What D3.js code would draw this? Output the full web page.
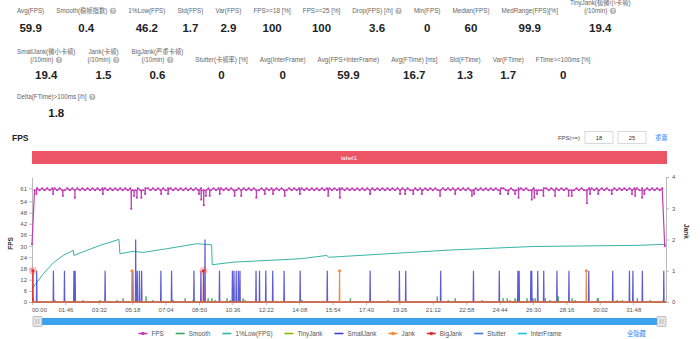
<!DOCTYPE html>
<html><head><meta charset="utf-8">
<script src="https://cdn.jsdelivr.net/npm/d3@7/dist/d3.min.js"></script>
<style>
body{margin:0;background:#fff;}
svg{display:block;font-family:"Liberation Sans",Arial,"Noto Sans CJK SC",sans-serif;}
.slabel{font-size:6.3px;fill:#666;}
.svalue{font-size:11.5px;font-weight:bold;fill:#222;}
</style></head>
<body>
<svg id="chart" width="700" height="339"></svg>
<script>
// ---------------- DATA ----------------
const statLabels1 = ["Avg(FPS)","Smooth(稳帧指数)","1%Low(FPS)","Std(FPS)","Var(FPS)","FPS>=18 [%]","FPS>=25 [%]","Drop(FPS) [/h]","Min(FPS)","Median(FPS)","MedRange(FPS)[%]","TinyJank(极微小卡顿)\n(/10min)"];
const statValues1 = ["59.9","0.4","46.2","1.7","2.9","100","100","3.6","0","60","99.9","19.4"];
const statHelp1   = [0,1,0,0,0,0,0,1,0,0,0,1];
const statLabels2 = ["SmallJank(微小卡顿)\n(/10min)","Jank(卡顿)\n(/10min)","BigJank(严重卡顿)\n(/10min)","Stutter(卡顿率) [%]","Avg(InterFrame)","Avg(FPS+InterFrame)","Avg(FTime) [ms]","Std(FTime)","Var(FTime)","FTime>=100ms [%]"];
const statValues2 = ["19.4","1.5","0.6","0","0","59.9","16.7","1.3","1.7","0"];
const statHelp2   = [1,1,1,0,0,0,0,0,0,0];
const statLabels3 = ["Delta(FTime)>100ms [/h]"];
const statValues3 = ["1.8"];
const statHelp3   = [1];

const xTickLabels = ["00:00","01:46","03:32","05:18","07:04","08:50","10:36","12:22","14:08","15:54","17:40","19:26","21:12","22:58","24:44","26:30","28:16","30:02","31:48"];
const leftTicks = [0,6,12,18,24,30,36,42,48,54,61];
const rightTicks = [0,1,2,3,4];
const durationSec = 2012;

// FPS samples, one every 8 s (the band between 60 and 61)
const fpsStep = 8;
const fpsValues = [
31,60,61,60,61,60,61,60,61,61,60,61,
60,60,61,60,61,60,61,60,61,60,61,60,
61,60,61,60,61,61,60,61,60,61,60,61,
60,61,60,61,60,60,61,60,60,61,61,60,
61,60,61,60,61,60,61,61,60,61,60,61,
60,61,60,61,60,61,60,61,60,60,61,60,
61,60,61,61,60,61,60,61,60,60,61,60,
61,60,61,60,61,60,60,61,60,61,60,61,
60,61,60,61,60,60,61,60,61,60,61,61,
60,61,60,61,60,61,60,61,60,61,61,60,
61,60,61,61,60,61,60,61,60,61,60,61,
60,61,60,61,60,61,60,61,60,61,60,61,
60,61,60,61,60,61,60,60,61,60,61,60,
61,60,61,60,61,60,60,61,60,61,60,61,
60,61,60,61,60,61,60,60,61,60,61,60,
61,60,61,60,61,60,61,61,60,60,61,60,
60,61,61,60,61,60,60,61,60,60,60,61,
61,60,61,60,61,60,61,60,61,60,60,60,
61,60,61,60,60,61,61,60,61,60,61,60,
61,60,60,61,60,61,60,61,60,61,60,61,
61,60,61,60,61,60,61,60,61,60,61,30
];
// momentary FPS drops (second, fps)
const fpsDipTimes  = [14,67,98,136,225,315,324,333,347,359,410,432,530,537,545,552,564,596,643,664,712,739,765,802,850,940,977,1073,1168,1184,1210,1237,1295,1343,1396,1403,1486,1511,1533,1544,1586,1594,1603,1623,1660,1703,1713,1761,1771,1797,1840,1904,1914,1936,1943];
const fpsDipValues = [58,58,57,56,58,50,57,56,56,58,58,58,58,55,52,57,57,58,57,57,56,58,58,57,58,57,56,58,58,58,58,58,57,58,57,58,58,58,58,56,55,56,58,57,57,57,57,53,58,58,58,58,57,56,58];

const lowFpsTimes  = [0,36,68,99,131,133,174,216,276,279,321,352,428,523,544,570,572,639,851,936,941,1327,1591,1920,2012];
const lowFpsValues = [7,15.2,21.1,25,27.7,25,27.7,30.4,33.6,25.9,27.2,26.6,28.6,31.3,31,30.7,20,21.4,23.2,25,24,27.9,29.8,30.4,31];

const smallJankTimes  = [15,68,103,133,137,232,320,329,334,341,348,409,443,514,536,549,595,636,641,648,655,660,711,722,742,764,800,851,937,1073,1166,1186,1297,1401,1483,1542,1546,1583,1586,1605,1624,1666,1704,1767,1843,1896,1907,1937,2005];
const smallJankValues = [1,1,1,1,1,1,1,2,1,1,1,1,1,1,1,2,1,1,1,1,1,1,1,1,1,1,1,1,1,1,1,1,1,1,1,1,1,1,1,1,1,1,1,1,1,1,1,1,1];
const jankTimes  = [317,976,1759];
const jankValues = [1,1,1];
const bigJankTimes  = [3,544];
const bigJankValues = [1,1];
const smoothTimes  = [4,73,162,216,270,289,317,362,384,448,486,511,559,571,581,619,629,670,676,857,1010,1130,1286,1321,1343,1429,1495,1508,1517,1533,1540,1571,1590,1597,1629,1644,1670,1714,1724,1794,1797,1857,1873,1921,1962,2003];
const smoothValues = [2,1,1,1,1,2,1,3,1,1,2,1,2,2,1,2,1,2,1,1,2,1,3,1,2,1,2,2,1,2,1,2,2,2,2,1,3,2,1,2,2,1,1,2,1,1];

const legendNames = ["FPS","Smooth","1%Low(FPS)","TinyJank","SmallJank","Jank","BigJank","Stutter","InterFrame"];
const colors = {FPS:"#c23cb6",Smooth:"#3aa65a","1%Low(FPS)":"#36b4a8",TinyJank:"#8cb800",SmallJank:"#3f3fcc",Jank:"#f28a3c",BigJank:"#e2292c",Stutter:"#3a78e0",InterFrame:"#22c3e0"};
const legendSymbol = {FPS:true,Jank:true,BigJank:true};

// ---------------- DRAW ----------------
const svg = d3.select("#chart");

function drawStatsRow(labels, values, helps, yLabel, yValue){
  let cursor = 11;
  labels.forEach((lab,i)=>{
    const lines = lab.split("\n");
    const g = svg.append("g");
    const texts = lines.map(ln => g.append("text").attr("class","slabel").text(ln));
    const widths = texts.map(t => t.node().getComputedTextLength());
    const n = lines.length;
    if (helps[i]) widths[n-1] += 9;
    const vt = g.append("text").attr("class","svalue").attr("text-anchor","middle").text(values[i]);
    const vw = vt.node().getComputedTextLength();
    const w = Math.max(...widths, vw, 26);
    const cx = cursor + 6 + w/2;
    texts.forEach((t,j)=> t.attr("x", cx - widths[j]/2).attr("y", yLabel - (n-1-j)*8));
    if (helps[i]) {
      const ix = cx + widths[n-1]/2 - 3.3;
      g.append("circle").attr("cx", ix).attr("cy", yLabel - 2.1).attr("r", 3.1).attr("fill","#b5b5b5");
      g.append("text").attr("x", ix).attr("y", yLabel - 0.2).attr("text-anchor","middle")
        .style("font-size","5px").style("font-weight","bold").attr("fill","#fff").text("?");
    }
    vt.attr("x", cx).attr("y", yValue);
    cursor += w + 12;
  });
}
drawStatsRow(statLabels1, statValues1, statHelp1, 13, 32);
drawStatsRow(statLabels2, statValues2, statHelp2, 62, 79);
drawStatsRow(statLabels3, statValues3, statHelp3, 99, 117);

// header
svg.append("text").attr("x",12).attr("y",140.5).style("font-size","8.5px").style("font-weight","bold").attr("fill","#222").text("FPS");
svg.append("text").attr("x",558).attr("y",139.5).style("font-size","5.8px").attr("fill","#444").text("FPS(>=)");
[["18",585],["25",618]].forEach(([v,x0])=>{
  svg.append("rect").attr("x",x0).attr("y",131.5).attr("width",28).attr("height",12).attr("fill","#fff").attr("stroke","#d0d0d0").attr("stroke-width",0.8);
  svg.append("text").attr("x",x0+14).attr("y",139.5).attr("text-anchor","middle").style("font-size","5.8px").attr("fill","#333").text(v);
});
svg.append("text").attr("x",655).attr("y",139.5).style("font-size","6.3px").attr("fill","#3d7ff5").text("重置");
svg.append("rect").attr("x",32).attr("y",151).attr("width",635).attr("height",13).attr("fill","#ec5566");
svg.append("text").attr("x",349).attr("y",159.8).attr("text-anchor","middle").style("font-size","6px").attr("fill","#fff").text("label1");

// plot
const plot = {l:32, r:666, t:177, b:302};
const x  = d3.scaleLinear().domain([0,durationSec]).range([plot.l, plot.r]);
const yL = d3.scaleLinear().domain([0,61*1.1]).range([plot.b, plot.t]);
const yR = d3.scaleLinear().domain([0,4]).range([plot.b, plot.t]);

function styleAxis(g){
  g.selectAll("path,line").attr("stroke","#a8a8a8").attr("stroke-width",0.8);
  g.selectAll("text").attr("fill","#555").style("font-size","6px");
}
const xTickTimes = xTickLabels.map(s => { const [m,sec]=s.split(":").map(Number); return m*60+sec; });
const gx = svg.append("g").attr("transform",`translate(0,${plot.b})`)
  .call(d3.axisBottom(x).tickValues(xTickTimes).tickFormat((d,i)=>xTickLabels[i]).tickSize(3).tickSizeOuter(0).tickPadding(3));
styleAxis(gx);
gx.selectAll(".tick text").filter((d,i)=>i===0).attr("text-anchor","start").attr("dx",-0.5);
const gyl = svg.append("g").attr("transform",`translate(${plot.l},0)`)
  .call(d3.axisLeft(yL).tickValues(leftTicks).tickSize(3).tickSizeOuter(0).tickPadding(2));
styleAxis(gyl);
const gyr = svg.append("g").attr("transform",`translate(${plot.r},0)`)
  .call(d3.axisRight(yR).tickValues(rightTicks).tickFormat(d3.format("d")).tickSize(3).tickSizeOuter(0).tickPadding(3));
styleAxis(gyr);
svg.append("text").attr("transform",`translate(13,${(plot.t+plot.b)/2+4}) rotate(-90)`).attr("text-anchor","middle")
  .style("font-size","6.5px").style("font-weight","bold").attr("fill","#333").text("FPS");
svg.append("text").attr("transform",`translate(684,${(plot.t+plot.b)/2-8}) rotate(90)`).attr("text-anchor","middle")
  .style("font-size","6.5px").style("font-weight","bold").attr("fill","#333").text("Jank");

// spike series builder
function spikePoints(times, values){
  const pts = [[0,0]];
  times.forEach((t,i)=>{ pts.push([t-1,0],[t,values[i]],[t+1,0]); });
  pts.push([durationSec,0]);
  return pts;
}
const lineL = d3.line().x(d=>x(d[0])).y(d=>yL(d[1]));
const lineR = d3.line().x(d=>x(d[0])).y(d=>yR(d[1]));

// Smooth (small green spikes, left axis)
svg.append("path").datum(spikePoints(smoothTimes, smoothValues)).attr("d", lineL)
  .attr("fill","none").attr("stroke",colors.Smooth).attr("stroke-width",1).attr("opacity",0.85);
// 1%Low
svg.append("path").datum(lowFpsTimes.map((t,i)=>[t,lowFpsValues[i]])).attr("d", lineL)
  .attr("fill","none").attr("stroke",colors["1%Low(FPS)"]).attr("stroke-width",1);
// SmallJank
svg.append("path").datum(spikePoints(smallJankTimes, smallJankValues)).attr("d", lineR)
  .attr("fill","none").attr("stroke",colors.SmallJank).attr("stroke-width",1.2).attr("opacity",0.85);
// BigJank
svg.append("path").datum(spikePoints(bigJankTimes, bigJankValues)).attr("d", lineR)
  .attr("fill","none").attr("stroke",colors.BigJank).attr("stroke-width",1);
// Jank
svg.append("path").datum(spikePoints(jankTimes, jankValues)).attr("d", lineR)
  .attr("fill","none").attr("stroke",colors.Jank).attr("stroke-width",1.1);
svg.selectAll(".jdot").data(jankTimes).join("circle").attr("cx",d=>x(d)).attr("cy",(d,i)=>yR(jankValues[i]))
  .attr("r",1.5).attr("fill",colors.Jank);
svg.selectAll(".bjhalo").data(bigJankTimes).join("circle").attr("cx",d=>x(d)).attr("cy",(d,i)=>yR(bigJankValues[i]))
  .attr("r",4).attr("fill","rgba(240,90,90,0.35)");
svg.selectAll(".bjdot").data(bigJankTimes).join("circle").attr("cx",d=>x(d)).attr("cy",(d,i)=>yR(bigJankValues[i]))
  .attr("r",1.6).attr("fill",colors.BigJank);

// FPS: samples merged with momentary drops (each drop returns to 60 right after)
const fpsSamples = fpsValues.map((v,i)=>[i*fpsStep, v]);
const fpsDips = fpsDipTimes.map((t,i)=>[t, fpsDipValues[i]]);
const fpsLinePts = fpsSamples.concat(...fpsDips.map(d=>[[d[0]-0.6,60],d,[d[0]+0.6,60]]))
  .sort((a,b)=>a[0]-b[0]);
svg.append("path").datum(fpsLinePts).attr("d", lineL).attr("fill","none").attr("stroke",colors.FPS).attr("stroke-width",1.2);
svg.selectAll(".fdot").data(fpsSamples.concat(fpsDips)).join("circle").attr("cx",d=>x(d[0])).attr("cy",d=>yL(d[1]))
  .attr("r",1.1).attr("fill",colors.FPS);

// slider
svg.append("rect").attr("x",33).attr("y",318).attr("width",633).attr("height",7).attr("fill","#3ca2ee");
[33,657].forEach(hx=>{
  svg.append("rect").attr("x",hx).attr("y",316.5).attr("width",9).attr("height",10).attr("rx",1)
    .attr("fill","#e6e6e6").attr("stroke","#a0a0a0").attr("stroke-width",0.6);
  [3.2,5.8].forEach(dx=> svg.append("line").attr("x1",hx+dx).attr("x2",hx+dx).attr("y1",319).attr("y2",324).attr("stroke","#999").attr("stroke-width",0.6));
});

// legend
const lg = svg.append("g");
let lx = 0;
legendNames.forEach(name=>{
  const g = lg.append("g").attr("transform",`translate(${lx},0)`);
  g.append("line").attr("x1",0).attr("x2",9).attr("y1",0).attr("y2",0).attr("stroke",colors[name]).attr("stroke-width",1.6);
  if (legendSymbol[name]) g.append("circle").attr("cx",4.5).attr("cy",0).attr("r",1.8).attr("fill",colors[name]);
  const t = g.append("text").attr("x",13).attr("y",2.2).style("font-size","6.3px").attr("fill","#555").text(name);
  const w = 13 + t.node().getComputedTextLength();
  lx += w + 12;
});
const legW = lx - 12;
lg.attr("transform",`translate(${350 - legW/2},333.5)`);
svg.append("text").attr("x",627).attr("y",335.5).style("font-size","6.3px").attr("fill","#3d7ff5").text("全隐藏");
</script>
</body></html>
